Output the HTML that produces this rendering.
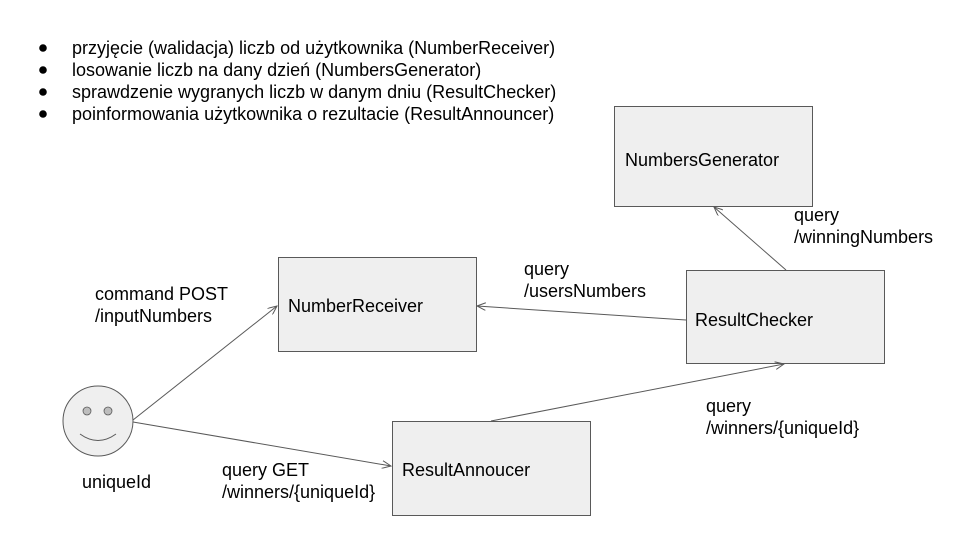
<!DOCTYPE html>
<html><head><meta charset="utf-8"><style>
html,body{margin:0;padding:0;background:#fff}
svg{display:block}
text{font-family:"Liberation Sans",Arial,sans-serif;font-size:18px;fill:#000}
</style></head><body>
<svg width="960" height="540" viewBox="0 0 960 540" xmlns="http://www.w3.org/2000/svg">
<defs>
<marker id="a" markerWidth="10" markerHeight="8" refX="9" refY="4" orient="auto" markerUnits="userSpaceOnUse">
<path d="M0,0 L9,4 L0,8" fill="none" stroke="#595959" stroke-width="1"/>
</marker>
</defs>
<g>
<circle cx="43" cy="48" r="3.8" fill="#000"/>
<circle cx="43" cy="70" r="3.8" fill="#000"/>
<circle cx="43" cy="92" r="3.8" fill="#000"/>
<circle cx="43" cy="114" r="3.8" fill="#000"/>
<text x="72" y="54">przyjęcie (walidacja) liczb od użytkownika (NumberReceiver)</text>
<text x="72" y="76">losowanie liczb na dany dzień (NumbersGenerator)</text>
<text x="72" y="98">sprawdzenie wygranych liczb w danym dniu (ResultChecker)</text>
<text x="72" y="120">poinformowania użytkownika o rezultacie (ResultAnnouncer)</text>
</g>
<g fill="#efefef" stroke="#595959" stroke-width="1">
<rect x="614.5" y="106.5" width="198" height="100"/>
<rect x="686.5" y="270.5" width="198" height="93"/>
<rect x="278.5" y="257.5" width="198" height="94"/>
<rect x="392.5" y="421.5" width="198" height="94"/>
<circle cx="98" cy="421" r="35"/>
</g>
<circle cx="87" cy="411" r="4" fill="#bdbdbd" stroke="#595959" stroke-width="0.8"/>
<circle cx="108" cy="411" r="4" fill="#bdbdbd" stroke="#595959" stroke-width="0.8"/>
<path d="M80,434 Q98,447 116,434" fill="none" stroke="#595959" stroke-width="1"/>
<text x="625" y="166">NumbersGenerator</text>
<text x="695" y="326">ResultChecker</text>
<text x="288" y="312">NumberReceiver</text>
<text x="402" y="476">ResultAnnoucer</text>
<text x="82" y="488">uniqueId</text>
<g stroke="#595959" stroke-width="1" fill="none">
<line x1="133" y1="420" x2="277" y2="306" marker-end="url(#a)"/>
<line x1="133" y1="422" x2="391" y2="466" marker-end="url(#a)"/>
<line x1="686" y1="320" x2="477" y2="306" marker-end="url(#a)"/>
<line x1="786" y1="270" x2="714" y2="207" marker-end="url(#a)"/>
<line x1="491" y1="421" x2="784" y2="364" marker-end="url(#a)"/>
</g>
<text x="95" y="300">command POST</text>
<text x="95" y="322">/inputNumbers</text>
<text x="524" y="275">query</text>
<text x="524" y="297">/usersNumbers</text>
<text x="794" y="221">query</text>
<text x="794" y="243">/winningNumbers</text>
<text x="706" y="412">query</text>
<text x="706" y="434">/winners/{uniqueId}</text>
<text x="222" y="476">query GET</text>
<text x="222" y="498">/winners/{uniqueId}</text>
</svg>
</body></html>
